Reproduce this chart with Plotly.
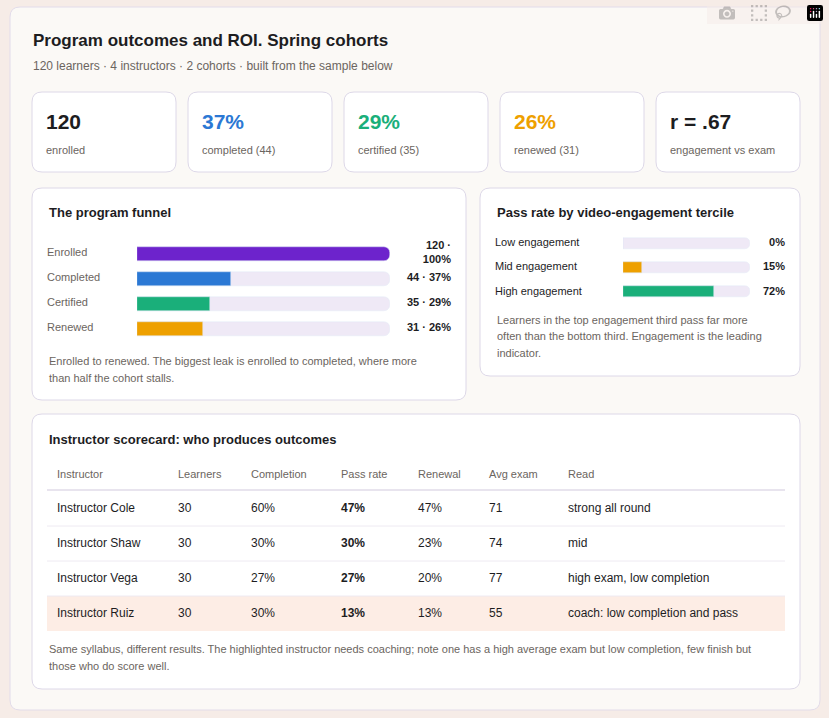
import plotly.graph_objects as go

W, H = 829, 718

# data
kpi_values = ["120", "37%", "29%", "26%", "r = .67"]
kpi_labels = ["enrolled", "completed (44)", "certified (35)", "renewed (31)", "engagement vs exam"]
kpi_colors = ["#1d1d1f", "#2b78d4", "#1aaf7a", "#eea000", "#1d1d1f"]

funnel_stages = ["Enrolled", "Completed", "Certified", "Renewed"]
funnel_counts = [120, 44, 35, 31]
funnel_pcts = [100, 37, 29, 26]
funnel_colors = ["#6d23cc", "#2b78d4", "#1aaf7a", "#eea000"]

tercile_labels = ["Low engagement", "Mid engagement", "High engagement"]
tercile_pass = [0, 15, 72]
tercile_colors = ["#eea000", "#eea000", "#1aaf7a"]

table_headers = ["Instructor", "Learners", "Completion", "Pass rate", "Renewal", "Avg exam", "Read"]
instructors = ["Instructor Cole", "Instructor Shaw", "Instructor Vega", "Instructor Ruiz"]
learners = [30, 30, 30, 30]
completion = [60, 30, 27, 30]
pass_rate = [47, 30, 27, 13]
renewal = [47, 23, 20, 13]
avg_exam = [71, 74, 77, 55]
reads = ["strong all round", "mid", "high exam, low completion", "coach: low completion and pass"]
highlight = "Instructor Ruiz"

FONT = "Liberation Sans, Arial, sans-serif"
DARK = "#1d1d1f"
GREY = "#6b6560"
TRACK = "#efe9f6"
BORDER = "#ddd8e8"


def px(x):
    return x / W


def py(y):
    return 1 - y / H


shapes = []
annotations = []


def card(x0, y0, x1, y1, fill="white", line=BORDER):
    r = 10
    path = (f"M {px(x0+r)},{py(y0)} L {px(x1-r)},{py(y0)} Q {px(x1)},{py(y0)} {px(x1)},{py(y0+r)} "
            f"L {px(x1)},{py(y1-r)} Q {px(x1)},{py(y1)} {px(x1-r)},{py(y1)} "
            f"L {px(x0+r)},{py(y1)} Q {px(x0)},{py(y1)} {px(x0)},{py(y1-r)} "
            f"L {px(x0)},{py(y0+r)} Q {px(x0)},{py(y0)} {px(x0+r)},{py(y0)} Z")
    shapes.append(dict(type="path", path=path, xref="paper", yref="paper",
                       fillcolor=fill, line=dict(color=line, width=1), layer="below"))


def text(x, y, s, size=12, color=DARK, bold=False, anchor="left"):
    if bold:
        s = f"<b>{s}</b>"
    annotations.append(dict(x=px(x), y=py(y), xref="paper", yref="paper", text=s,
                            showarrow=False, xanchor=anchor, yanchor="middle",
                            font=dict(size=size, color=color, family=FONT), align=anchor))


card(10, 7, 820, 710, fill="#fbf9f6", line="#e2dcea")
text(31, 40, "Program outcomes and ROI. Spring cohorts", 17, bold=True)
text(31, 66, "120 learners · 4 instructors · 2 cohorts · built from the sample below", 12, GREY)

# KPI cards
for i, (v, l, c) in enumerate(zip(kpi_values, kpi_labels, kpi_colors)):
    x0 = 32 + i * 156
    card(x0, 92, x0 + 144, 172)
    text(x0 + 12, 122, v, 21, c, bold=True)
    text(x0 + 12, 150, l, 11, GREY)

# funnel card
card(32, 188, 466, 400)
text(47, 213, "The program funnel", 13, bold=True)
text(47, 361, "Enrolled to renewed. The biggest leak is enrolled to completed, where more", 11, GREY)
text(47, 378, "than half the cohort stalls.", 11, GREY)

# pass-rate card
card(480, 188, 800, 376)
text(495, 213, "Pass rate by video-engagement tercile", 13, bold=True)
text(495, 320, "Learners in the top engagement third pass far more", 11, GREY)
text(495, 336, "often than the bottom third. Engagement is the leading", 11, GREY)
text(495, 353, "indicator.", 11, GREY)

# scorecard
card(32, 414, 800, 689)
text(47, 439, "Instructor scorecard: who produces outcomes", 13, bold=True)
col_x = [55, 176, 249, 339, 416, 487, 566]
for x, h in zip(col_x, table_headers):
    text(x, 474, h, 11, GREY)
shapes.append(dict(type="line", xref="paper", yref="paper", x0=px(47), x1=px(785),
                   y0=py(490), y1=py(490), line=dict(color="#e0dbe8", width=1.5)))
for i, name in enumerate(instructors):
    yc = 508 + i * 35
    if name == highlight:
        shapes.append(dict(type="rect", xref="paper", yref="paper", x0=px(47), x1=px(785),
                           y0=py(yc - 17), y1=py(yc + 18), fillcolor="#fdede5",
                           line=dict(width=0), layer="below"))
    if i > 0 and name != highlight:
        shapes.append(dict(type="line", xref="paper", yref="paper", x0=px(47), x1=px(785),
                           y0=py(yc - 17), y1=py(yc - 17), line=dict(color="#eeeaf2", width=1)))
    row = [name, str(learners[i]), f"{completion[i]}%", f"{pass_rate[i]}%",
           f"{renewal[i]}%", str(avg_exam[i]), reads[i]]
    for j, (x, v) in enumerate(zip(col_x, row)):
        text(x, yc, v, 12, DARK, bold=(j == 3))
shapes.append(dict(type="line", xref="paper", yref="paper", x0=px(47), x1=px(785),
                   y0=py(596), y1=py(596), line=dict(color="#eeeaf2", width=1)))
text(47, 649, "Same syllabus, different results. The highlighted instructor needs coaching; note one has a high average exam but low completion, few finish but", 11, GREY)
text(47, 666, "those who do score well.", 11, GREY)

fig = go.Figure()

# funnel bars
fig.add_trace(go.Bar(y=funnel_stages, x=[100] * len(funnel_stages), orientation="h",
                     marker=dict(color=TRACK, cornerradius=6), width=0.56,
                     xaxis="x", yaxis="y", hoverinfo="skip"))
fig.add_trace(go.Bar(y=funnel_stages, x=funnel_pcts, orientation="h",
                     marker=dict(color=funnel_colors, cornerradius=6), width=0.56,
                     xaxis="x", yaxis="y"))
fig.add_trace(go.Scatter(y=funnel_stages, x=[0] * 4, mode="text",
                         text=funnel_stages, textposition="middle right",
                         textfont=dict(size=11, color=GREY, family=FONT),
                         xaxis="x6", yaxis="y", cliponaxis=False, hoverinfo="skip"))
fig.add_trace(go.Scatter(y=funnel_stages, x=[100] * 4, mode="text",
                         text=[f"<b>{c} ·<br>{p}%</b>" if c >= 100 else f"<b>{c} · {p}%</b>"
                               for c, p in zip(funnel_counts, funnel_pcts)],
                         textposition="middle left",
                         textfont=dict(size=11, color=DARK, family=FONT),
                         xaxis="x2", yaxis="y", cliponaxis=False, hoverinfo="skip"))

# tercile bars
fig.add_trace(go.Bar(y=tercile_labels, x=[100] * 3, orientation="h",
                     marker=dict(color=TRACK, cornerradius=5), width=0.45,
                     xaxis="x3", yaxis="y3", hoverinfo="skip"))
fig.add_trace(go.Bar(y=tercile_labels, x=tercile_pass, orientation="h",
                     marker=dict(color=tercile_colors, cornerradius=5), width=0.45,
                     xaxis="x3", yaxis="y3"))
fig.add_trace(go.Scatter(y=tercile_labels, x=[0] * 3, mode="text", text=tercile_labels,
                         textposition="middle right",
                         textfont=dict(size=11, color=DARK, family=FONT),
                         xaxis="x4", yaxis="y3", cliponaxis=False, hoverinfo="skip"))
fig.add_trace(go.Scatter(y=tercile_labels, x=[1] * 3, mode="text",
                         text=[f"<b>{v}%</b>" for v in tercile_pass],
                         textposition="middle left",
                         textfont=dict(size=11, color=DARK, family=FONT),
                         xaxis="x5", yaxis="y3", cliponaxis=False, hoverinfo="skip"))

hidden = dict(visible=False, fixedrange=True)
fig.update_layout(
    width=W, height=H, margin=dict(l=0, r=0, t=0, b=0),
    paper_bgcolor="#f6ece7", plot_bgcolor="rgba(0,0,0,0)",
    showlegend=False, barmode="overlay", bargap=0,
    font=dict(family=FONT),
    shapes=shapes, annotations=annotations,
    xaxis=dict(domain=[px(137), px(390)], range=[0, 100], **hidden),
    xaxis2=dict(domain=[px(390), px(451)], range=[0, 100], anchor="y", **hidden),
    xaxis6=dict(domain=[px(47), px(137)], range=[0, 1], anchor="y", **hidden),
    yaxis=dict(domain=[py(341), py(241)], autorange="reversed", **hidden),
    xaxis3=dict(domain=[px(623), px(750)], range=[0, 100], anchor="y3", **hidden),
    xaxis4=dict(domain=[px(495), px(623)], range=[0, 1], anchor="y3", **hidden),
    xaxis5=dict(domain=[px(750), px(785)], range=[0, 1], anchor="y3", **hidden),
    yaxis3=dict(domain=[py(304), py(231)], autorange="reversed", anchor="x3", **hidden),
)
fig.write_html("out.html", post_script="document.body.style.margin='0';document.body.style.overflow='hidden';")
